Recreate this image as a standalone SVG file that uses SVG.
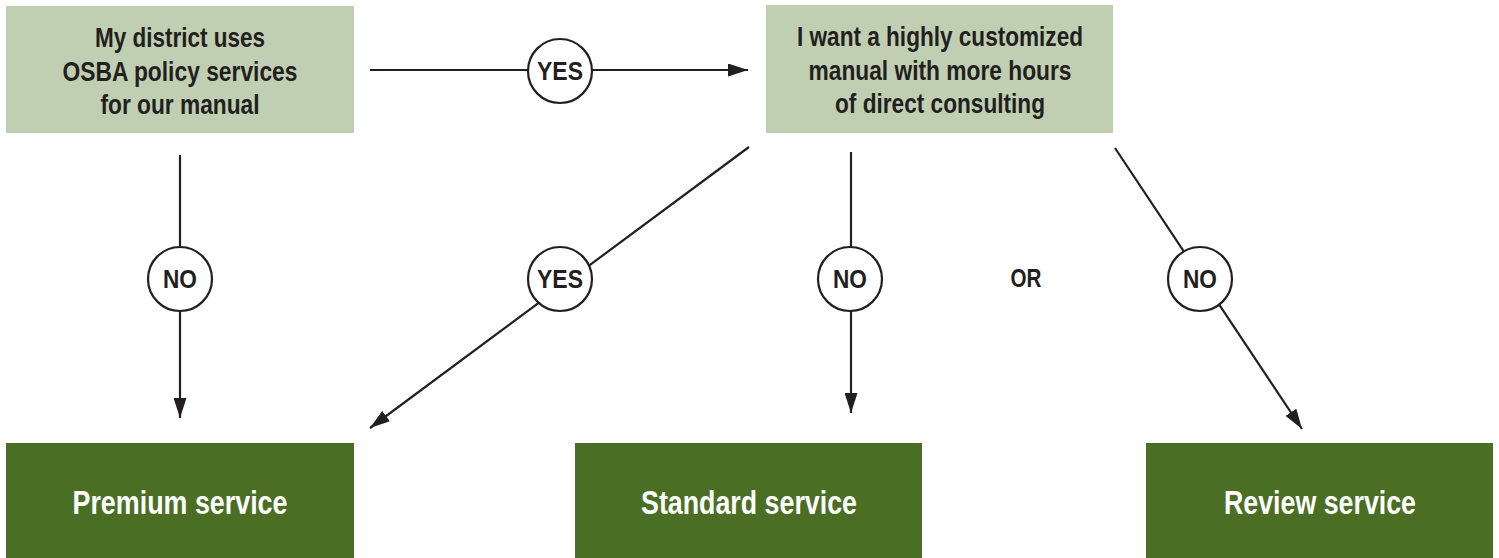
<svg xmlns="http://www.w3.org/2000/svg" width="1499" height="558" viewBox="0 0 1499 558">
<defs>
<marker id="ah" viewBox="0 0 20 13" refX="20" refY="6.5" markerWidth="20" markerHeight="13" markerUnits="userSpaceOnUse" orient="auto">
<path d="M0,0 L20,6.5 L0,13 Z" fill="#231f20"/>
</marker>
<style>
.q{fill:#c0cfb2}
.s{fill:#4a6e23}
.qt{font-family:"Liberation Sans",Arial,sans-serif;font-weight:bold;font-size:28px;fill:#231f20;text-anchor:middle}
.st{font-family:"Liberation Sans",Arial,sans-serif;font-weight:bold;font-size:34px;fill:#ffffff;text-anchor:middle}
.lt{font-family:"Liberation Sans",Arial,sans-serif;font-weight:bold;font-size:26px;fill:#231f20;text-anchor:middle}
.c{fill:#ffffff;stroke:#231f20;stroke-width:2.2}
.ln{stroke:#231f20;stroke-width:2.2;fill:none}
</style>
</defs>
<rect width="1499" height="558" fill="#ffffff"/>
<g id="connectors">
<line class="ln" x1="370" y1="70" x2="748" y2="70" marker-end="url(#ah)"/>
<line class="ln" x1="180" y1="155" x2="180" y2="418" marker-end="url(#ah)"/>
<line class="ln" x1="749" y1="147" x2="370" y2="428" marker-end="url(#ah)"/>
<line class="ln" x1="851" y1="152" x2="851" y2="413" marker-end="url(#ah)"/>
<line class="ln" x1="1115" y1="148" x2="1302" y2="429" marker-end="url(#ah)"/>
<g id="label-yes-top"><circle class="c" cx="560" cy="71" r="32"/><text class="lt" x="560" y="80" textLength="46" lengthAdjust="spacingAndGlyphs">YES</text></g>
<g id="label-no-left"><circle class="c" cx="180" cy="279" r="32"/><text class="lt" x="180" y="288" textLength="34" lengthAdjust="spacingAndGlyphs">NO</text></g>
<g id="label-yes-diag"><circle class="c" cx="560" cy="279" r="32"/><text class="lt" x="560" y="288" textLength="46" lengthAdjust="spacingAndGlyphs">YES</text></g>
<g id="label-no-mid"><circle class="c" cx="850" cy="279" r="32"/><text class="lt" x="850" y="288" textLength="34" lengthAdjust="spacingAndGlyphs">NO</text></g>
<g id="label-no-right"><circle class="c" cx="1200" cy="279" r="32"/><text class="lt" x="1200" y="288" textLength="34" lengthAdjust="spacingAndGlyphs">NO</text></g>
<text id="label-or" class="lt" x="1026" y="287" textLength="31" lengthAdjust="spacingAndGlyphs">OR</text>
</g>
<g id="q1">
<rect class="q" x="6" y="6" width="348" height="127"/>
<text class="qt" x="180" y="47" textLength="170" lengthAdjust="spacingAndGlyphs">My district uses</text>
<text class="qt" x="180" y="81" textLength="235" lengthAdjust="spacingAndGlyphs">OSBA policy services</text>
<text class="qt" x="180" y="114" textLength="159" lengthAdjust="spacingAndGlyphs">for our manual</text>
</g>
<g id="q2">
<rect class="q" x="766" y="5" width="347" height="128"/>
<text class="qt" x="940" y="46" textLength="286" lengthAdjust="spacingAndGlyphs">I want a highly customized</text>
<text class="qt" x="940" y="80" textLength="263" lengthAdjust="spacingAndGlyphs">manual with more hours</text>
<text class="qt" x="940" y="113" textLength="210" lengthAdjust="spacingAndGlyphs">of direct consulting</text>
</g>
<g id="premium">
<rect class="s" x="6" y="443" width="348" height="115"/>
<text class="st" x="180" y="514" textLength="215" lengthAdjust="spacingAndGlyphs">Premium service</text>
</g>
<g id="standard">
<rect class="s" x="575" y="443" width="347" height="115"/>
<text class="st" x="749" y="514" textLength="216" lengthAdjust="spacingAndGlyphs">Standard service</text>
</g>
<g id="review">
<rect class="s" x="1146" y="443" width="347" height="115"/>
<text class="st" x="1320" y="514" textLength="192" lengthAdjust="spacingAndGlyphs">Review service</text>
</g>
</svg>
